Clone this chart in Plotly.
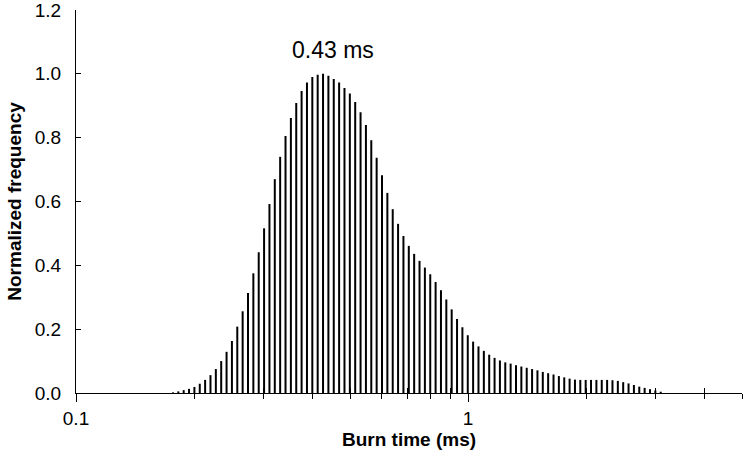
import math
import plotly.graph_objects as go

# Bin centres (ms) of the burn-time histogram
burn_time_ms = [
    0.17675, 0.18240, 0.18823, 0.19425, 0.20046, 0.20687, 0.21349, 0.22032, 0.22737, 0.23464,
    0.24215, 0.24989, 0.25788, 0.26613, 0.27464, 0.28343, 0.29249, 0.30185, 0.31150, 0.32146,
    0.33175, 0.34236, 0.35331, 0.36461, 0.37627, 0.38831, 0.40073, 0.41355, 0.42677, 0.44042,
    0.45451, 0.46905, 0.48405, 0.49953, 0.51551, 0.53200, 0.54901, 0.56657, 0.58469, 0.60339,
    0.62269, 0.64261, 0.66316, 0.68437, 0.70626, 0.72885, 0.75216, 0.77622, 0.80105, 0.82667,
    0.85311, 0.88040, 0.90856, 0.93762, 0.96761, 0.99856, 1.03050, 1.06346, 1.09747, 1.13257,
    1.16879, 1.20617, 1.24475, 1.28456, 1.32565, 1.36805, 1.41181, 1.45697, 1.50357, 1.55166,
    1.60129, 1.65251, 1.70536, 1.75991, 1.81620, 1.87429, 1.93424, 1.99611, 2.05995, 2.12584,
    2.19383, 2.26400, 2.33641, 2.41114, 2.48826, 2.56785, 2.64998, 2.73474, 2.82221, 2.91248,
    3.00563, 3.10176,
]

# Normalized frequency of each bin
norm_freq = [
    0.002, 0.005, 0.009, 0.013, 0.019, 0.029, 0.041, 0.056, 0.075, 0.100,
    0.129, 0.163, 0.208, 0.256, 0.313, 0.375, 0.441, 0.516, 0.592, 0.670,
    0.740, 0.805, 0.862, 0.909, 0.946, 0.973, 0.990, 0.997, 1.000, 0.994,
    0.984, 0.973, 0.956, 0.938, 0.912, 0.880, 0.840, 0.792, 0.737, 0.682,
    0.627, 0.576, 0.530, 0.492, 0.461, 0.436, 0.414, 0.393, 0.372, 0.348,
    0.322, 0.293, 0.262, 0.232, 0.206, 0.181, 0.161, 0.146, 0.132, 0.120,
    0.110, 0.102, 0.096, 0.092, 0.087, 0.083, 0.079, 0.075, 0.071, 0.066,
    0.062, 0.058, 0.053, 0.049, 0.045, 0.042, 0.041, 0.041, 0.041, 0.041,
    0.041, 0.041, 0.040, 0.038, 0.034, 0.030, 0.025, 0.020, 0.016, 0.012,
    0.008, 0.004,
]

x_major_ticks = [0.1, 1]
x_major_labels = ["0.1", "1"]
x_minor_ticks = [0.2, 0.3, 0.4, 0.5, 0.6, 0.7, 0.8, 0.9, 2, 3, 4]
x_end_tick = [5]
y_ticks = [0.0, 0.2, 0.4, 0.6, 0.8, 1.0, 1.2]
y_labels = ["0.0", "0.2", "0.4", "0.6", "0.8", "1.0", "1.2"]

peak_label = "0.43 ms"
peak_label_x = 0.452
peak_label_y = 1.074

# vertical line segments for each histogram bin
seg_x, seg_y = [], []
for xv, fv in zip(burn_time_ms, norm_freq):
    seg_x += [xv, xv, None]
    seg_y += [0, fv, None]

FONT = "Liberation Sans, Arial, Helvetica, sans-serif"
x_range = [math.log10(0.1), math.log10(5)]

fig = go.Figure()
fig.add_trace(go.Scatter(x=seg_x, y=seg_y, mode="lines",
                         line=dict(color="black", width=2),
                         hoverinfo="skip", showlegend=False))
# invisible helpers so overlay axes (for crossing tick marks) get drawn
fig.add_trace(go.Scatter(x=[1], y=[0], xaxis="x2", mode="markers",
                         marker=dict(opacity=0), hoverinfo="skip", showlegend=False))
fig.add_trace(go.Scatter(x=[1], y=[0], xaxis="x3", mode="markers",
                         marker=dict(opacity=0), hoverinfo="skip", showlegend=False))

fig.update_layout(
    width=748, height=466,
    margin=dict(l=76, r=6, t=10, b=73, autoexpand=False),
    paper_bgcolor="white", plot_bgcolor="white",
    font=dict(family=FONT, size=19, color="black"),
    showlegend=False,
    xaxis=dict(
        type="log", range=x_range, automargin=False,
        tickmode="array", tickvals=x_major_ticks, ticktext=x_major_labels,
        ticks="outside", ticklen=8, tickwidth=1, tickcolor="black",
        minor=dict(tickmode="array", tickvals=x_minor_ticks + x_end_tick,
                   ticks="outside", ticklen=5, tickwidth=1, tickcolor="black",
                   showgrid=False),
        showline=True, linecolor="black", linewidth=1,
        showgrid=False, zeroline=False,
        ticklabelstandoff=0,
        title=dict(text="<b>Burn time (ms)</b>", font=dict(size=19), standoff=2),
    ),
    xaxis2=dict(
        type="log", range=x_range, overlaying="x", anchor="y", side="bottom",
        automargin=False,
        tickmode="array", tickvals=x_minor_ticks,
        ticks="inside", ticklen=5, tickwidth=1, tickcolor="black",
        showticklabels=False, showline=False, showgrid=False, zeroline=False,
    ),
    xaxis3=dict(
        type="log", range=x_range, overlaying="x", anchor="y", side="bottom",
        automargin=False,
        tickmode="array", tickvals=x_end_tick,
        ticks="inside", ticklen=22, tickwidth=1, tickcolor="black",
        showticklabels=False, showline=False, showgrid=False, zeroline=False,
    ),
    yaxis=dict(
        range=[0, 1.2], automargin=False,
        tickmode="array", tickvals=y_ticks, ticktext=y_labels,
        ticks="inside", ticklen=5, tickwidth=1, tickcolor="black",
        showline=True, linecolor="black", linewidth=1,
        showgrid=False, zeroline=False,
        ticklabelstandoff=10, ticklabeloverflow="allow",
        title=dict(text="<b>Normalized frequency</b>", font=dict(size=19), standoff=8),
    ),
    annotations=[dict(
        x=math.log10(peak_label_x), y=peak_label_y, xref="x", yref="y",
        text=peak_label, showarrow=False, font=dict(size=23),
    )],
)

fig.write_html("out.html", config={"displayModeBar": False},
               post_script="document.body.style.margin='0';")
